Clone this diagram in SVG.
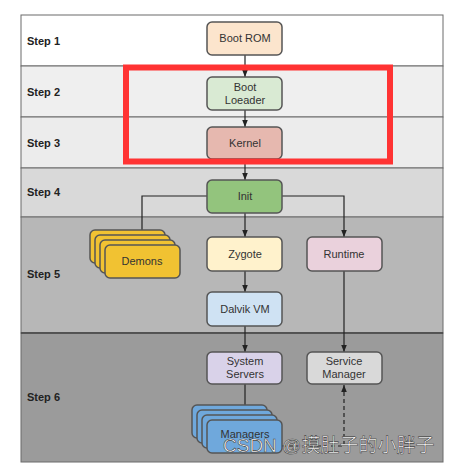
<svg xmlns="http://www.w3.org/2000/svg" width="450" height="465" viewBox="0 0 450 465">
<style>
.band{stroke:#6a6a6a;stroke-width:1}
.step{font-family:"Liberation Sans",Arial,sans-serif;font-size:11px;font-weight:bold;fill:#222}
.node{stroke:#555;stroke-width:1.5}
.lbl{font-family:"Liberation Sans",Arial,sans-serif;font-size:11px;fill:#333;text-anchor:middle}
.con{fill:none;stroke:#222;stroke-width:1.2}
.dash{fill:none;stroke:#222;stroke-width:1.2;stroke-dasharray:4,3}
.wm{font-family:"Liberation Sans","Noto Sans CJK SC",sans-serif;font-size:19px;fill:#fff;stroke:#444;stroke-width:0.6}
</style>
<defs>
<marker id="arr" viewBox="0 0 10 10" refX="10" refY="5" markerWidth="6" markerHeight="6" orient="auto">
<path d="M0,1 L10,5 L0,9 z" fill="#222"/>
</marker>
</defs>
<rect width="450" height="465" fill="#fff"/>
<g id="bands">
<rect class="band" x="21" y="15" width="422" height="51" fill="#ffffff"/>
<rect class="band" x="21" y="66" width="422" height="51" fill="#efefef"/>
<rect class="band" x="21" y="117" width="422" height="51" fill="#ececec"/>
<rect class="band" x="21" y="168" width="422" height="49" fill="#d9d9d9"/>
<rect class="band" x="21" y="217" width="422" height="116" fill="#b7b7b7"/>
<rect class="band" x="21" y="333" width="422" height="129" fill="#9b9b9b"/>
<line x1="21" y1="333" x2="443" y2="333" stroke="#444" stroke-width="1.5"/>
<text class="step" x="27" y="45">Step 1</text>
<text class="step" x="27" y="96">Step 2</text>
<text class="step" x="27" y="147">Step 3</text>
<text class="step" x="27" y="196">Step 4</text>
<text class="step" x="27" y="278">Step 5</text>
<text class="step" x="27" y="401">Step 6</text>
</g>
<g id="connectors">
<line class="con" x1="245" y1="55" x2="245" y2="77" marker-end="url(#arr)"/>
<line class="con" x1="245" y1="110" x2="245" y2="127" marker-end="url(#arr)"/>
<line class="con" x1="245" y1="159" x2="245" y2="180" marker-end="url(#arr)"/>
<polyline class="con" points="207,196 142,196 142,240" marker-end="url(#arr)"/>
<polyline class="con" points="282,196 344,196 344,237" marker-end="url(#arr)"/>
<line class="con" x1="245" y1="213" x2="245" y2="237" marker-end="url(#arr)"/>
<line class="con" x1="245" y1="271" x2="245" y2="292" marker-end="url(#arr)"/>
<line class="con" x1="245" y1="326" x2="245" y2="352" marker-end="url(#arr)"/>
<line class="con" x1="344" y1="271" x2="344" y2="352" marker-end="url(#arr)"/>
<line class="con" x1="245" y1="384" x2="245" y2="417" marker-end="url(#arr)"/>
<polyline class="dash" points="282,446 344,446 344,385" marker-end="url(#arr)"/>
</g>
<g id="boot-rom"><rect class="node" x="207" y="22" width="75" height="33" rx="5" fill="#fce5cd"/><text class="lbl" x="245" y="42">Boot ROM</text></g>
<g id="boot-loader"><rect class="node" x="207" y="77" width="75" height="33" rx="5" fill="#d9ead3"/><text class="lbl" x="245" y="91">Boot</text><text class="lbl" x="245" y="104">Loeader</text></g>
<g id="kernel"><rect class="node" x="207" y="127" width="75" height="32" rx="5" fill="#e6b8af"/><text class="lbl" x="245" y="147">Kernel</text></g>
<g id="init"><rect class="node" x="207" y="180" width="75" height="33" rx="5" fill="#93c47d"/><text class="lbl" x="245" y="200">Init</text></g>
<g id="demons">
<rect class="node" x="90" y="230" width="75" height="33" rx="5" fill="#f1c232"/>
<rect class="node" x="95" y="235" width="75" height="33" rx="5" fill="#f1c232"/>
<rect class="node" x="100" y="240" width="75" height="33" rx="5" fill="#f1c232"/>
<rect class="node" x="105" y="245" width="75" height="33" rx="5" fill="#f1c232"/>
<text class="lbl" x="142" y="265">Demons</text>
</g>
<g id="zygote"><rect class="node" x="207" y="237" width="75" height="34" rx="5" fill="#fff2cc"/><text class="lbl" x="245" y="258">Zygote</text></g>
<g id="runtime"><rect class="node" x="307" y="237" width="75" height="34" rx="5" fill="#ead1dc"/><text class="lbl" x="344" y="258">Runtime</text></g>
<g id="dalvik"><rect class="node" x="207" y="292" width="75" height="34" rx="5" fill="#cfe2f3"/><text class="lbl" x="245" y="313">Dalvik VM</text></g>
<g id="system-servers"><rect class="node" x="207" y="352" width="75" height="32" rx="5" fill="#d9d2e9"/><text class="lbl" x="245" y="365">System</text><text class="lbl" x="245" y="378">Servers</text></g>
<g id="service-manager"><rect class="node" x="307" y="352" width="75" height="32" rx="5" fill="#d9d9d9"/><text class="lbl" x="344" y="365">Service</text><text class="lbl" x="344" y="378">Manager</text></g>
<g id="managers">
<rect class="node" x="192" y="405" width="75" height="33" rx="5" fill="#6fa8dc"/>
<rect class="node" x="197" y="410" width="75" height="33" rx="5" fill="#6fa8dc"/>
<rect class="node" x="202" y="415" width="75" height="33" rx="5" fill="#6fa8dc"/>
<rect class="node" x="207" y="420" width="75" height="33" rx="5" fill="#6fa8dc"/>
<text class="lbl" x="245" y="438">Managers</text>
</g>
<g id="highlight"><rect x="126" y="67.5" width="264" height="94" fill="none" stroke="#ff3333" stroke-width="6"/></g>
<g id="watermark"><text class="wm" x="223" y="452">CSDN @摸肚子的小胖子</text></g>
</svg>
